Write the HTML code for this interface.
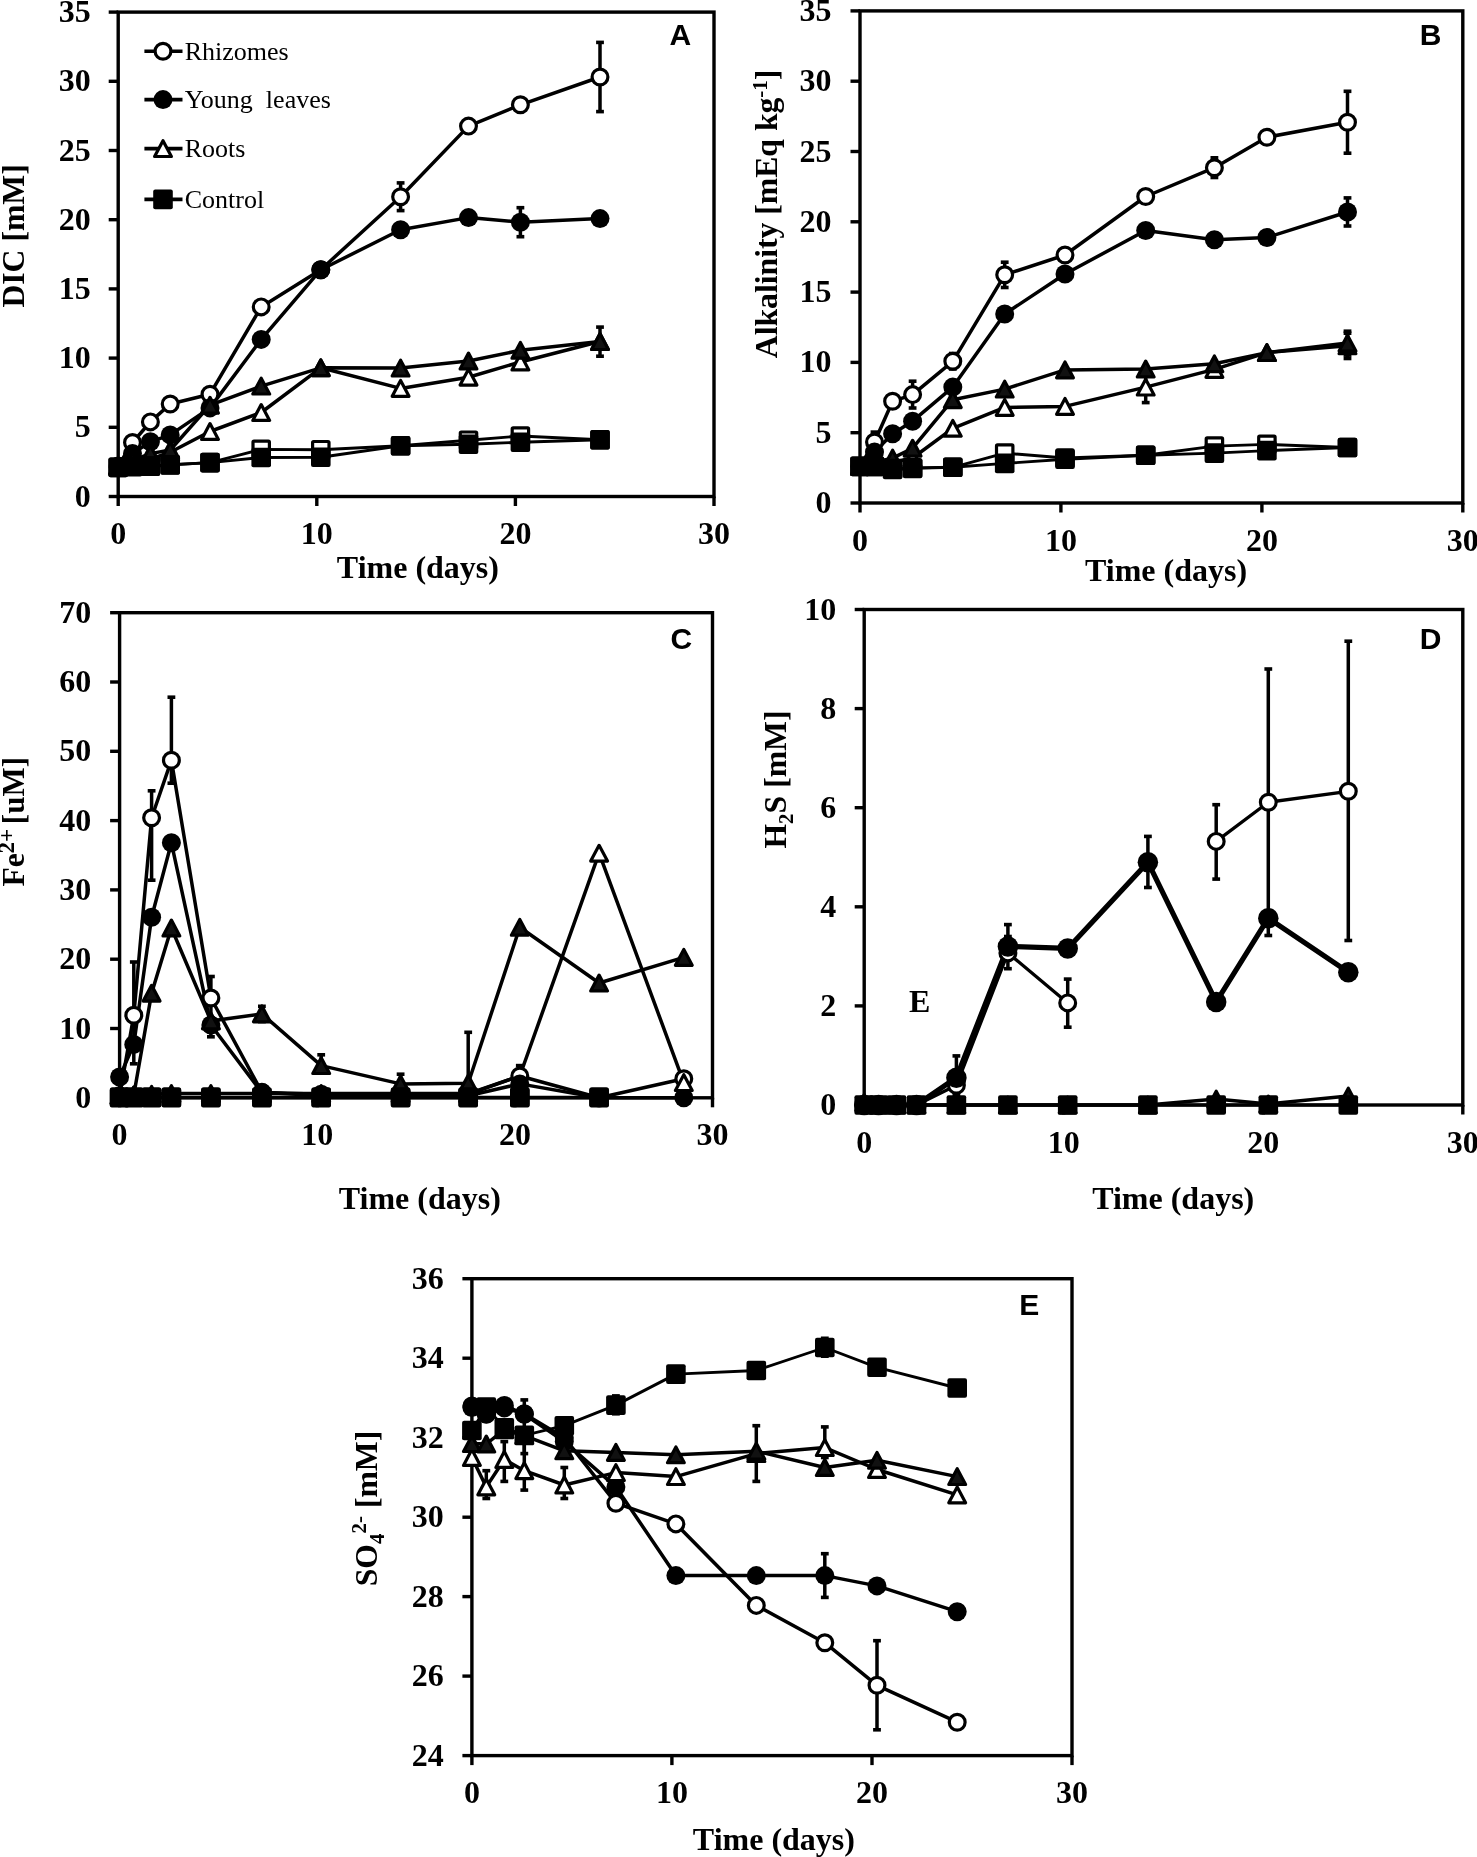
<!DOCTYPE html>
<html><head><meta charset="utf-8"><style>
html,body{margin:0;padding:0;background:#fff;}
svg{display:block;filter:grayscale(1);}
.tk{font-family:"Liberation Serif",serif;font-weight:bold;font-size:32px;}
.ax{font-family:"Liberation Serif",serif;font-weight:bold;font-size:32px;}
.ay{font-family:"Liberation Serif",serif;font-weight:bold;font-size:31.7px;}
.lg{font-family:"Liberation Serif",serif;font-size:26px;}
.lt{font-family:"Liberation Sans",sans-serif;font-weight:bold;font-size:30px;}
</style></head><body>
<svg width="1477" height="1857" viewBox="0 0 1477 1857">
<rect width="1477" height="1857" fill="#fff"/>
<rect x="118.2" y="12.1" width="595.8" height="484.4" fill="none" stroke="#000" stroke-width="3.4"/>
<line x1="108.7" y1="496.5" x2="118.2" y2="496.5" stroke="#000" stroke-width="3.4"/>
<text x="90.8" y="506.5" class="tk" text-anchor="end">0</text>
<line x1="108.7" y1="427.3" x2="118.2" y2="427.3" stroke="#000" stroke-width="3.4"/>
<text x="90.8" y="437.3" class="tk" text-anchor="end">5</text>
<line x1="108.7" y1="358.1" x2="118.2" y2="358.1" stroke="#000" stroke-width="3.4"/>
<text x="90.8" y="368.1" class="tk" text-anchor="end">10</text>
<line x1="108.7" y1="288.9" x2="118.2" y2="288.9" stroke="#000" stroke-width="3.4"/>
<text x="90.8" y="298.9" class="tk" text-anchor="end">15</text>
<line x1="108.7" y1="219.7" x2="118.2" y2="219.7" stroke="#000" stroke-width="3.4"/>
<text x="90.8" y="229.7" class="tk" text-anchor="end">20</text>
<line x1="108.7" y1="150.5" x2="118.2" y2="150.5" stroke="#000" stroke-width="3.4"/>
<text x="90.8" y="160.5" class="tk" text-anchor="end">25</text>
<line x1="108.7" y1="81.3" x2="118.2" y2="81.3" stroke="#000" stroke-width="3.4"/>
<text x="90.8" y="91.3" class="tk" text-anchor="end">30</text>
<line x1="108.7" y1="12.1" x2="118.2" y2="12.1" stroke="#000" stroke-width="3.4"/>
<text x="90.8" y="22.1" class="tk" text-anchor="end">35</text>
<line x1="118.2" y1="496.5" x2="118.2" y2="506" stroke="#000" stroke-width="3.4"/>
<text x="118.2" y="544" class="tk" text-anchor="middle">0</text>
<line x1="316.8" y1="496.5" x2="316.8" y2="506" stroke="#000" stroke-width="3.4"/>
<text x="316.8" y="544" class="tk" text-anchor="middle">10</text>
<line x1="515.4" y1="496.5" x2="515.4" y2="506" stroke="#000" stroke-width="3.4"/>
<text x="515.4" y="544" class="tk" text-anchor="middle">20</text>
<line x1="714" y1="496.5" x2="714" y2="506" stroke="#000" stroke-width="3.4"/>
<text x="714" y="544" class="tk" text-anchor="middle">30</text>
<polyline points="118.2,466.1 132.5,442.5 150.4,421.9 170.2,404.0 210.0,394.2 261.2,306.9 320.8,269.7 400.6,196.7 468.5,126.1 520.4,104.8 600.0,77.0" fill="none" stroke="#000" stroke-width="3.5" stroke-linejoin="round"/>
<polyline points="118.2,467.4 132.5,453.6 150.4,441.8 170.2,434.9 210.0,407.9 261.2,339.4 320.8,269.7 400.6,229.8 468.5,217.6 520.4,222.2 600.0,218.6" fill="none" stroke="#000" stroke-width="3.5" stroke-linejoin="round"/>
<polyline points="118.2,466.1 132.5,463.3 150.4,459.1 170.2,452.2 210.0,431.5 261.2,412.5 320.8,367.8 400.6,388.4 468.5,377.2 520.4,362.0 600.0,341.5" fill="none" stroke="#000" stroke-width="3.5" stroke-linejoin="round"/>
<polyline points="118.2,466.1 132.5,460.5 150.4,453.6 170.2,450.0 210.0,405.2 261.2,386.1 320.8,367.8 400.6,368.1 468.5,361.0 520.4,350.3 600.0,341.6" fill="none" stroke="#000" stroke-width="3.5" stroke-linejoin="round"/>
<polyline points="118.2,467.4 132.5,466.1 150.4,466.1 170.2,464.7 210.0,462.6 261.2,449.4 320.8,449.7 400.6,445.8 468.5,440.2 520.4,436.0 600.0,439.8" fill="none" stroke="#000" stroke-width="2.9" stroke-linejoin="round"/>
<polyline points="118.2,467.4 132.5,466.7 150.4,466.1 170.2,464.9 210.0,462.6 261.2,457.5 320.8,457.3 400.6,445.8 468.5,444.2 520.4,442.2 600.0,439.8" fill="none" stroke="#000" stroke-width="2.9" stroke-linejoin="round"/>
<line x1="400.6" y1="182.9" x2="400.6" y2="210.6" stroke="#000" stroke-width="3.5"/>
<line x1="396.7" y1="182.9" x2="404.5" y2="182.9" stroke="#000" stroke-width="3.6"/>
<line x1="396.7" y1="210.6" x2="404.5" y2="210.6" stroke="#000" stroke-width="3.6"/>
<line x1="600.0" y1="42.4" x2="600.0" y2="111.6" stroke="#000" stroke-width="3.5"/>
<line x1="596.1" y1="42.4" x2="603.9" y2="42.4" stroke="#000" stroke-width="3.6"/>
<line x1="596.1" y1="111.6" x2="603.9" y2="111.6" stroke="#000" stroke-width="3.6"/>
<line x1="520.4" y1="207.7" x2="520.4" y2="236.7" stroke="#000" stroke-width="3.5"/>
<line x1="516.5" y1="207.7" x2="524.3" y2="207.7" stroke="#000" stroke-width="3.6"/>
<line x1="516.5" y1="236.7" x2="524.3" y2="236.7" stroke="#000" stroke-width="3.6"/>
<line x1="600.0" y1="327.1" x2="600.0" y2="356.2" stroke="#000" stroke-width="3.5"/>
<line x1="596.1" y1="327.1" x2="603.9" y2="327.1" stroke="#000" stroke-width="3.6"/>
<line x1="596.1" y1="356.2" x2="603.9" y2="356.2" stroke="#000" stroke-width="3.6"/>
<circle cx="118.2" cy="466.1" r="7.9" fill="#fff" stroke="#000" stroke-width="3.2"/>
<circle cx="132.5" cy="442.5" r="7.9" fill="#fff" stroke="#000" stroke-width="3.2"/>
<circle cx="150.4" cy="421.9" r="7.9" fill="#fff" stroke="#000" stroke-width="3.2"/>
<circle cx="170.2" cy="404.0" r="7.9" fill="#fff" stroke="#000" stroke-width="3.2"/>
<circle cx="210.0" cy="394.2" r="7.9" fill="#fff" stroke="#000" stroke-width="3.2"/>
<circle cx="261.2" cy="306.9" r="7.9" fill="#fff" stroke="#000" stroke-width="3.2"/>
<circle cx="320.8" cy="269.7" r="7.9" fill="#fff" stroke="#000" stroke-width="3.2"/>
<circle cx="400.6" cy="196.7" r="7.9" fill="#fff" stroke="#000" stroke-width="3.2"/>
<circle cx="468.5" cy="126.1" r="7.9" fill="#fff" stroke="#000" stroke-width="3.2"/>
<circle cx="520.4" cy="104.8" r="7.9" fill="#fff" stroke="#000" stroke-width="3.2"/>
<circle cx="600.0" cy="77.0" r="7.9" fill="#fff" stroke="#000" stroke-width="3.2"/>
<circle cx="118.2" cy="467.4" r="9.50" fill="#000"/>
<circle cx="132.5" cy="453.6" r="9.50" fill="#000"/>
<circle cx="150.4" cy="441.8" r="9.50" fill="#000"/>
<circle cx="170.2" cy="434.9" r="9.50" fill="#000"/>
<circle cx="210.0" cy="407.9" r="9.50" fill="#000"/>
<circle cx="261.2" cy="339.4" r="9.50" fill="#000"/>
<circle cx="320.8" cy="269.7" r="9.50" fill="#000"/>
<circle cx="400.6" cy="229.8" r="9.50" fill="#000"/>
<circle cx="468.5" cy="217.6" r="9.50" fill="#000"/>
<circle cx="520.4" cy="222.2" r="9.50" fill="#000"/>
<circle cx="600.0" cy="218.6" r="9.50" fill="#000"/>
<path d="M118.2 458.2L126.6 474.0L109.8 474.0Z" fill="#fff" stroke="#000" stroke-width="3.2" stroke-linejoin="round"/>
<path d="M132.5 455.4L140.9 471.2L124.1 471.2Z" fill="#fff" stroke="#000" stroke-width="3.2" stroke-linejoin="round"/>
<path d="M150.4 451.2L158.8 467.0L142.0 467.0Z" fill="#fff" stroke="#000" stroke-width="3.2" stroke-linejoin="round"/>
<path d="M170.2 444.3L178.6 460.1L161.8 460.1Z" fill="#fff" stroke="#000" stroke-width="3.2" stroke-linejoin="round"/>
<path d="M210.0 423.6L218.4 439.4L201.6 439.4Z" fill="#fff" stroke="#000" stroke-width="3.2" stroke-linejoin="round"/>
<path d="M261.2 404.6L269.6 420.4L252.8 420.4Z" fill="#fff" stroke="#000" stroke-width="3.2" stroke-linejoin="round"/>
<path d="M320.8 359.9L329.2 375.7L312.4 375.7Z" fill="#fff" stroke="#000" stroke-width="3.2" stroke-linejoin="round"/>
<path d="M400.6 380.5L409.0 396.3L392.2 396.3Z" fill="#fff" stroke="#000" stroke-width="3.2" stroke-linejoin="round"/>
<path d="M468.5 369.3L476.9 385.1L460.1 385.1Z" fill="#fff" stroke="#000" stroke-width="3.2" stroke-linejoin="round"/>
<path d="M520.4 354.1L528.8 369.9L512.0 369.9Z" fill="#fff" stroke="#000" stroke-width="3.2" stroke-linejoin="round"/>
<path d="M600.0 333.6L608.4 349.4L591.6 349.4Z" fill="#fff" stroke="#000" stroke-width="3.2" stroke-linejoin="round"/>
<path d="M118.2 458.2L126.6 474.0L109.8 474.0Z" fill="#111" stroke="#000" stroke-width="3.2" stroke-linejoin="round"/>
<path d="M132.5 452.6L140.9 468.4L124.1 468.4Z" fill="#111" stroke="#000" stroke-width="3.2" stroke-linejoin="round"/>
<path d="M150.4 445.7L158.8 461.5L142.0 461.5Z" fill="#111" stroke="#000" stroke-width="3.2" stroke-linejoin="round"/>
<path d="M170.2 442.1L178.6 457.9L161.8 457.9Z" fill="#111" stroke="#000" stroke-width="3.2" stroke-linejoin="round"/>
<path d="M210.0 397.3L218.4 413.1L201.6 413.1Z" fill="#111" stroke="#000" stroke-width="3.2" stroke-linejoin="round"/>
<path d="M261.2 378.2L269.6 394.0L252.8 394.0Z" fill="#111" stroke="#000" stroke-width="3.2" stroke-linejoin="round"/>
<path d="M320.8 359.9L329.2 375.7L312.4 375.7Z" fill="#111" stroke="#000" stroke-width="3.2" stroke-linejoin="round"/>
<path d="M400.6 360.2L409.0 376.0L392.2 376.0Z" fill="#111" stroke="#000" stroke-width="3.2" stroke-linejoin="round"/>
<path d="M468.5 353.1L476.9 368.9L460.1 368.9Z" fill="#111" stroke="#000" stroke-width="3.2" stroke-linejoin="round"/>
<path d="M520.4 342.4L528.8 358.2L512.0 358.2Z" fill="#111" stroke="#000" stroke-width="3.2" stroke-linejoin="round"/>
<path d="M600.0 333.7L608.4 349.5L591.6 349.5Z" fill="#111" stroke="#000" stroke-width="3.2" stroke-linejoin="round"/>
<rect x="110.0" y="459.2" width="16.4" height="16.4" rx="1" fill="#fff" stroke="#000" stroke-width="3.2"/>
<rect x="124.3" y="457.9" width="16.4" height="16.4" rx="1" fill="#fff" stroke="#000" stroke-width="3.2"/>
<rect x="142.2" y="457.9" width="16.4" height="16.4" rx="1" fill="#fff" stroke="#000" stroke-width="3.2"/>
<rect x="162.0" y="456.5" width="16.4" height="16.4" rx="1" fill="#fff" stroke="#000" stroke-width="3.2"/>
<rect x="201.8" y="454.4" width="16.4" height="16.4" rx="1" fill="#fff" stroke="#000" stroke-width="3.2"/>
<rect x="253.0" y="441.2" width="16.4" height="16.4" rx="1" fill="#fff" stroke="#000" stroke-width="3.2"/>
<rect x="312.6" y="441.5" width="16.4" height="16.4" rx="1" fill="#fff" stroke="#000" stroke-width="3.2"/>
<rect x="392.4" y="437.6" width="16.4" height="16.4" rx="1" fill="#fff" stroke="#000" stroke-width="3.2"/>
<rect x="460.3" y="432.0" width="16.4" height="16.4" rx="1" fill="#fff" stroke="#000" stroke-width="3.2"/>
<rect x="512.2" y="427.8" width="16.4" height="16.4" rx="1" fill="#fff" stroke="#000" stroke-width="3.2"/>
<rect x="591.8" y="431.6" width="16.4" height="16.4" rx="1" fill="#fff" stroke="#000" stroke-width="3.2"/>
<rect x="108.4" y="457.6" width="19.6" height="19.6" rx="2" fill="#000"/>
<rect x="122.7" y="456.9" width="19.6" height="19.6" rx="2" fill="#000"/>
<rect x="140.6" y="456.3" width="19.6" height="19.6" rx="2" fill="#000"/>
<rect x="160.4" y="455.1" width="19.6" height="19.6" rx="2" fill="#000"/>
<rect x="200.2" y="452.8" width="19.6" height="19.6" rx="2" fill="#000"/>
<rect x="251.4" y="447.7" width="19.6" height="19.6" rx="2" fill="#000"/>
<rect x="311.0" y="447.5" width="19.6" height="19.6" rx="2" fill="#000"/>
<rect x="390.8" y="436.0" width="19.6" height="19.6" rx="2" fill="#000"/>
<rect x="458.7" y="434.4" width="19.6" height="19.6" rx="2" fill="#000"/>
<rect x="510.6" y="432.4" width="19.6" height="19.6" rx="2" fill="#000"/>
<rect x="590.2" y="430.0" width="19.6" height="19.6" rx="2" fill="#000"/>
<text transform="translate(23.9,235.9) rotate(-90)" text-anchor="middle" class="ay">DIC [mM]</text>
<text x="417.9" y="577.9" text-anchor="middle" class="ax">Time (days)</text>
<text x="669.5" y="45.4" class="lt">A</text>
<line x1="144.4" y1="51.3" x2="182.5" y2="51.3" stroke="#000" stroke-width="3.6"/>
<circle cx="163.0" cy="51.3" r="7.9" fill="#fff" stroke="#000" stroke-width="3.2"/>
<text x="184.7" y="60.1" class="lg">Rhizomes</text>
<line x1="144.4" y1="99.6" x2="182.5" y2="99.6" stroke="#000" stroke-width="3.6"/>
<circle cx="163.0" cy="99.6" r="9.50" fill="#000"/>
<text x="184.7" y="108.4" class="lg">Young&#160;&#160;leaves</text>
<line x1="144.4" y1="148.6" x2="182.5" y2="148.6" stroke="#000" stroke-width="3.6"/>
<path d="M163.0 140.7L171.4 156.5L154.6 156.5Z" fill="#fff" stroke="#000" stroke-width="3.2" stroke-linejoin="round"/>
<text x="184.7" y="157.4" class="lg">Roots</text>
<line x1="144.4" y1="199.4" x2="182.5" y2="199.4" stroke="#000" stroke-width="3.6"/>
<rect x="153.2" y="189.6" width="19.6" height="19.6" rx="2" fill="#000"/>
<text x="184.7" y="208.2" class="lg">Control</text>
<rect x="860" y="10.9" width="602.8" height="492.1" fill="none" stroke="#000" stroke-width="3.4"/>
<line x1="850.5" y1="503" x2="860" y2="503" stroke="#000" stroke-width="3.4"/>
<text x="831.6" y="513" class="tk" text-anchor="end">0</text>
<line x1="850.5" y1="432.7" x2="860" y2="432.7" stroke="#000" stroke-width="3.4"/>
<text x="831.6" y="442.7" class="tk" text-anchor="end">5</text>
<line x1="850.5" y1="362.4" x2="860" y2="362.4" stroke="#000" stroke-width="3.4"/>
<text x="831.6" y="372.4" class="tk" text-anchor="end">10</text>
<line x1="850.5" y1="292.1" x2="860" y2="292.1" stroke="#000" stroke-width="3.4"/>
<text x="831.6" y="302.1" class="tk" text-anchor="end">15</text>
<line x1="850.5" y1="221.8" x2="860" y2="221.8" stroke="#000" stroke-width="3.4"/>
<text x="831.6" y="231.8" class="tk" text-anchor="end">20</text>
<line x1="850.5" y1="151.5" x2="860" y2="151.5" stroke="#000" stroke-width="3.4"/>
<text x="831.6" y="161.5" class="tk" text-anchor="end">25</text>
<line x1="850.5" y1="81.2" x2="860" y2="81.2" stroke="#000" stroke-width="3.4"/>
<text x="831.6" y="91.2" class="tk" text-anchor="end">30</text>
<line x1="850.5" y1="10.9" x2="860" y2="10.9" stroke="#000" stroke-width="3.4"/>
<text x="831.6" y="20.9" class="tk" text-anchor="end">35</text>
<line x1="860" y1="503" x2="860" y2="512.5" stroke="#000" stroke-width="3.4"/>
<text x="860" y="550.7" class="tk" text-anchor="middle">0</text>
<line x1="1060.9" y1="503" x2="1060.9" y2="512.5" stroke="#000" stroke-width="3.4"/>
<text x="1060.9" y="550.7" class="tk" text-anchor="middle">10</text>
<line x1="1261.9" y1="503" x2="1261.9" y2="512.5" stroke="#000" stroke-width="3.4"/>
<text x="1261.9" y="550.7" class="tk" text-anchor="middle">20</text>
<line x1="1462.8" y1="503" x2="1462.8" y2="512.5" stroke="#000" stroke-width="3.4"/>
<text x="1462.8" y="550.7" class="tk" text-anchor="middle">30</text>
<polyline points="860.0,466.4 874.5,442.0 892.6,401.3 912.6,394.6 952.8,361.3 1004.7,274.8 1065.0,255.0 1145.7,196.5 1214.4,167.7 1266.9,137.2 1347.5,122.3" fill="none" stroke="#000" stroke-width="3.5" stroke-linejoin="round"/>
<polyline points="860.0,466.4 874.5,452.1 892.6,433.8 912.6,421.2 952.8,387.1 1004.7,314.0 1065.0,274.0 1145.7,230.5 1214.4,239.8 1266.9,237.5 1347.5,212.0" fill="none" stroke="#000" stroke-width="3.5" stroke-linejoin="round"/>
<polyline points="860.0,466.4 874.5,465.0 892.6,462.2 912.6,458.0 952.8,428.3 1004.7,407.4 1065.0,406.4 1145.7,387.1 1214.4,369.4 1266.9,352.6 1347.5,345.8" fill="none" stroke="#000" stroke-width="3.5" stroke-linejoin="round"/>
<polyline points="860.0,466.4 874.5,462.2 892.6,458.1 912.6,448.2 952.8,399.7 1004.7,389.1 1065.0,369.9 1145.7,369.0 1214.4,363.8 1266.9,352.6 1347.5,343.1" fill="none" stroke="#000" stroke-width="3.5" stroke-linejoin="round"/>
<polyline points="860.0,466.4 874.5,466.4 892.6,468.6 912.6,467.9 952.8,467.3 1004.7,453.1 1065.0,458.0 1145.7,455.3 1214.4,446.1 1266.9,444.4 1347.5,447.5" fill="none" stroke="#000" stroke-width="2.9" stroke-linejoin="round"/>
<polyline points="860.0,466.4 874.5,466.4 892.6,469.4 912.6,468.4 952.8,467.3 1004.7,463.4 1065.0,459.3 1145.7,455.3 1214.4,453.1 1266.9,450.6 1347.5,447.5" fill="none" stroke="#000" stroke-width="2.9" stroke-linejoin="round"/>
<line x1="874.5" y1="432.1" x2="874.5" y2="451.8" stroke="#000" stroke-width="3.5"/>
<line x1="870.6" y1="432.1" x2="878.4" y2="432.1" stroke="#000" stroke-width="3.6"/>
<line x1="870.6" y1="451.8" x2="878.4" y2="451.8" stroke="#000" stroke-width="3.6"/>
<line x1="912.6" y1="381.2" x2="912.6" y2="408.0" stroke="#000" stroke-width="3.5"/>
<line x1="908.7" y1="381.2" x2="916.5" y2="381.2" stroke="#000" stroke-width="3.6"/>
<line x1="908.7" y1="408.0" x2="916.5" y2="408.0" stroke="#000" stroke-width="3.6"/>
<line x1="952.8" y1="353.5" x2="952.8" y2="369.0" stroke="#000" stroke-width="3.5"/>
<line x1="948.9" y1="353.5" x2="956.7" y2="353.5" stroke="#000" stroke-width="3.6"/>
<line x1="948.9" y1="369.0" x2="956.7" y2="369.0" stroke="#000" stroke-width="3.6"/>
<line x1="1004.7" y1="262.2" x2="1004.7" y2="287.5" stroke="#000" stroke-width="3.5"/>
<line x1="1000.8" y1="262.2" x2="1008.6" y2="262.2" stroke="#000" stroke-width="3.6"/>
<line x1="1000.8" y1="287.5" x2="1008.6" y2="287.5" stroke="#000" stroke-width="3.6"/>
<line x1="1214.4" y1="157.8" x2="1214.4" y2="177.5" stroke="#000" stroke-width="3.5"/>
<line x1="1210.5" y1="157.8" x2="1218.3" y2="157.8" stroke="#000" stroke-width="3.6"/>
<line x1="1210.5" y1="177.5" x2="1218.3" y2="177.5" stroke="#000" stroke-width="3.6"/>
<line x1="1347.5" y1="91.3" x2="1347.5" y2="153.2" stroke="#000" stroke-width="3.5"/>
<line x1="1343.6" y1="91.3" x2="1351.4" y2="91.3" stroke="#000" stroke-width="3.6"/>
<line x1="1343.6" y1="153.2" x2="1351.4" y2="153.2" stroke="#000" stroke-width="3.6"/>
<line x1="1347.5" y1="197.9" x2="1347.5" y2="226.0" stroke="#000" stroke-width="3.5"/>
<line x1="1343.6" y1="197.9" x2="1351.4" y2="197.9" stroke="#000" stroke-width="3.6"/>
<line x1="1343.6" y1="226.0" x2="1351.4" y2="226.0" stroke="#000" stroke-width="3.6"/>
<line x1="1145.7" y1="371.7" x2="1145.7" y2="402.6" stroke="#000" stroke-width="3.5"/>
<line x1="1141.8" y1="371.7" x2="1149.6" y2="371.7" stroke="#000" stroke-width="3.6"/>
<line x1="1141.8" y1="402.6" x2="1149.6" y2="402.6" stroke="#000" stroke-width="3.6"/>
<line x1="1347.5" y1="333.2" x2="1347.5" y2="358.5" stroke="#000" stroke-width="3.5"/>
<line x1="1343.6" y1="333.2" x2="1351.4" y2="333.2" stroke="#000" stroke-width="3.6"/>
<line x1="1343.6" y1="358.5" x2="1351.4" y2="358.5" stroke="#000" stroke-width="3.6"/>
<line x1="1347.5" y1="331.2" x2="1347.5" y2="355.1" stroke="#000" stroke-width="3.5"/>
<line x1="1343.6" y1="331.2" x2="1351.4" y2="331.2" stroke="#000" stroke-width="3.6"/>
<line x1="1343.6" y1="355.1" x2="1351.4" y2="355.1" stroke="#000" stroke-width="3.6"/>
<circle cx="860.0" cy="466.4" r="7.9" fill="#fff" stroke="#000" stroke-width="3.2"/>
<circle cx="874.5" cy="442.0" r="7.9" fill="#fff" stroke="#000" stroke-width="3.2"/>
<circle cx="892.6" cy="401.3" r="7.9" fill="#fff" stroke="#000" stroke-width="3.2"/>
<circle cx="912.6" cy="394.6" r="7.9" fill="#fff" stroke="#000" stroke-width="3.2"/>
<circle cx="952.8" cy="361.3" r="7.9" fill="#fff" stroke="#000" stroke-width="3.2"/>
<circle cx="1004.7" cy="274.8" r="7.9" fill="#fff" stroke="#000" stroke-width="3.2"/>
<circle cx="1065.0" cy="255.0" r="7.9" fill="#fff" stroke="#000" stroke-width="3.2"/>
<circle cx="1145.7" cy="196.5" r="7.9" fill="#fff" stroke="#000" stroke-width="3.2"/>
<circle cx="1214.4" cy="167.7" r="7.9" fill="#fff" stroke="#000" stroke-width="3.2"/>
<circle cx="1266.9" cy="137.2" r="7.9" fill="#fff" stroke="#000" stroke-width="3.2"/>
<circle cx="1347.5" cy="122.3" r="7.9" fill="#fff" stroke="#000" stroke-width="3.2"/>
<circle cx="860.0" cy="466.4" r="9.50" fill="#000"/>
<circle cx="874.5" cy="452.1" r="9.50" fill="#000"/>
<circle cx="892.6" cy="433.8" r="9.50" fill="#000"/>
<circle cx="912.6" cy="421.2" r="9.50" fill="#000"/>
<circle cx="952.8" cy="387.1" r="9.50" fill="#000"/>
<circle cx="1004.7" cy="314.0" r="9.50" fill="#000"/>
<circle cx="1065.0" cy="274.0" r="9.50" fill="#000"/>
<circle cx="1145.7" cy="230.5" r="9.50" fill="#000"/>
<circle cx="1214.4" cy="239.8" r="9.50" fill="#000"/>
<circle cx="1266.9" cy="237.5" r="9.50" fill="#000"/>
<circle cx="1347.5" cy="212.0" r="9.50" fill="#000"/>
<path d="M860.0 458.5L868.4 474.3L851.6 474.3Z" fill="#fff" stroke="#000" stroke-width="3.2" stroke-linejoin="round"/>
<path d="M874.5 457.1L882.9 472.9L866.1 472.9Z" fill="#fff" stroke="#000" stroke-width="3.2" stroke-linejoin="round"/>
<path d="M892.6 454.3L901.0 470.1L884.2 470.1Z" fill="#fff" stroke="#000" stroke-width="3.2" stroke-linejoin="round"/>
<path d="M912.6 450.1L921.0 465.9L904.2 465.9Z" fill="#fff" stroke="#000" stroke-width="3.2" stroke-linejoin="round"/>
<path d="M952.8 420.4L961.2 436.2L944.4 436.2Z" fill="#fff" stroke="#000" stroke-width="3.2" stroke-linejoin="round"/>
<path d="M1004.7 399.5L1013.1 415.3L996.3 415.3Z" fill="#fff" stroke="#000" stroke-width="3.2" stroke-linejoin="round"/>
<path d="M1065.0 398.5L1073.4 414.3L1056.6 414.3Z" fill="#fff" stroke="#000" stroke-width="3.2" stroke-linejoin="round"/>
<path d="M1145.7 379.2L1154.1 395.0L1137.3 395.0Z" fill="#fff" stroke="#000" stroke-width="3.2" stroke-linejoin="round"/>
<path d="M1214.4 361.5L1222.8 377.3L1206.0 377.3Z" fill="#fff" stroke="#000" stroke-width="3.2" stroke-linejoin="round"/>
<path d="M1266.9 344.7L1275.3 360.5L1258.5 360.5Z" fill="#fff" stroke="#000" stroke-width="3.2" stroke-linejoin="round"/>
<path d="M1347.5 337.9L1355.9 353.7L1339.1 353.7Z" fill="#fff" stroke="#000" stroke-width="3.2" stroke-linejoin="round"/>
<path d="M860.0 458.5L868.4 474.3L851.6 474.3Z" fill="#111" stroke="#000" stroke-width="3.2" stroke-linejoin="round"/>
<path d="M874.5 454.3L882.9 470.1L866.1 470.1Z" fill="#111" stroke="#000" stroke-width="3.2" stroke-linejoin="round"/>
<path d="M892.6 450.2L901.0 466.0L884.2 466.0Z" fill="#111" stroke="#000" stroke-width="3.2" stroke-linejoin="round"/>
<path d="M912.6 440.3L921.0 456.1L904.2 456.1Z" fill="#111" stroke="#000" stroke-width="3.2" stroke-linejoin="round"/>
<path d="M952.8 391.8L961.2 407.6L944.4 407.6Z" fill="#111" stroke="#000" stroke-width="3.2" stroke-linejoin="round"/>
<path d="M1004.7 381.2L1013.1 397.0L996.3 397.0Z" fill="#111" stroke="#000" stroke-width="3.2" stroke-linejoin="round"/>
<path d="M1065.0 362.0L1073.4 377.8L1056.6 377.8Z" fill="#111" stroke="#000" stroke-width="3.2" stroke-linejoin="round"/>
<path d="M1145.7 361.1L1154.1 376.9L1137.3 376.9Z" fill="#111" stroke="#000" stroke-width="3.2" stroke-linejoin="round"/>
<path d="M1214.4 355.9L1222.8 371.7L1206.0 371.7Z" fill="#111" stroke="#000" stroke-width="3.2" stroke-linejoin="round"/>
<path d="M1266.9 344.7L1275.3 360.5L1258.5 360.5Z" fill="#111" stroke="#000" stroke-width="3.2" stroke-linejoin="round"/>
<path d="M1347.5 335.2L1355.9 351.0L1339.1 351.0Z" fill="#111" stroke="#000" stroke-width="3.2" stroke-linejoin="round"/>
<rect x="851.8" y="458.2" width="16.4" height="16.4" rx="1" fill="#fff" stroke="#000" stroke-width="3.2"/>
<rect x="866.3" y="458.2" width="16.4" height="16.4" rx="1" fill="#fff" stroke="#000" stroke-width="3.2"/>
<rect x="884.4" y="460.4" width="16.4" height="16.4" rx="1" fill="#fff" stroke="#000" stroke-width="3.2"/>
<rect x="904.4" y="459.7" width="16.4" height="16.4" rx="1" fill="#fff" stroke="#000" stroke-width="3.2"/>
<rect x="944.6" y="459.1" width="16.4" height="16.4" rx="1" fill="#fff" stroke="#000" stroke-width="3.2"/>
<rect x="996.5" y="444.9" width="16.4" height="16.4" rx="1" fill="#fff" stroke="#000" stroke-width="3.2"/>
<rect x="1056.8" y="449.8" width="16.4" height="16.4" rx="1" fill="#fff" stroke="#000" stroke-width="3.2"/>
<rect x="1137.5" y="447.1" width="16.4" height="16.4" rx="1" fill="#fff" stroke="#000" stroke-width="3.2"/>
<rect x="1206.2" y="437.9" width="16.4" height="16.4" rx="1" fill="#fff" stroke="#000" stroke-width="3.2"/>
<rect x="1258.7" y="436.2" width="16.4" height="16.4" rx="1" fill="#fff" stroke="#000" stroke-width="3.2"/>
<rect x="1339.3" y="439.3" width="16.4" height="16.4" rx="1" fill="#fff" stroke="#000" stroke-width="3.2"/>
<rect x="850.2" y="456.6" width="19.6" height="19.6" rx="2" fill="#000"/>
<rect x="864.7" y="456.6" width="19.6" height="19.6" rx="2" fill="#000"/>
<rect x="882.8" y="459.6" width="19.6" height="19.6" rx="2" fill="#000"/>
<rect x="902.8" y="458.6" width="19.6" height="19.6" rx="2" fill="#000"/>
<rect x="943.0" y="457.5" width="19.6" height="19.6" rx="2" fill="#000"/>
<rect x="994.9" y="453.6" width="19.6" height="19.6" rx="2" fill="#000"/>
<rect x="1055.2" y="449.5" width="19.6" height="19.6" rx="2" fill="#000"/>
<rect x="1135.9" y="445.5" width="19.6" height="19.6" rx="2" fill="#000"/>
<rect x="1204.6" y="443.3" width="19.6" height="19.6" rx="2" fill="#000"/>
<rect x="1257.1" y="440.8" width="19.6" height="19.6" rx="2" fill="#000"/>
<rect x="1337.7" y="437.7" width="19.6" height="19.6" rx="2" fill="#000"/>
<text transform="translate(776.9,213.9) rotate(-90)" text-anchor="middle" class="ay">Alkalinity [mEq kg<tspan dy="-10.3" font-size="21">-1</tspan><tspan dy="10.3">]</tspan></text>
<text x="1166.1" y="581.0" text-anchor="middle" class="ax">Time (days)</text>
<text x="1419.7" y="45.4" class="lt">B</text>
<rect x="119.6" y="612.7" width="592.9" height="485.1" fill="none" stroke="#000" stroke-width="3.4"/>
<line x1="110.1" y1="1097.8" x2="119.6" y2="1097.8" stroke="#000" stroke-width="3.4"/>
<text x="91.3" y="1107.8" class="tk" text-anchor="end">0</text>
<line x1="110.1" y1="1028.5" x2="119.6" y2="1028.5" stroke="#000" stroke-width="3.4"/>
<text x="91.3" y="1038.5" class="tk" text-anchor="end">10</text>
<line x1="110.1" y1="959.2" x2="119.6" y2="959.2" stroke="#000" stroke-width="3.4"/>
<text x="91.3" y="969.2" class="tk" text-anchor="end">20</text>
<line x1="110.1" y1="889.9" x2="119.6" y2="889.9" stroke="#000" stroke-width="3.4"/>
<text x="91.3" y="899.9" class="tk" text-anchor="end">30</text>
<line x1="110.1" y1="820.6" x2="119.6" y2="820.6" stroke="#000" stroke-width="3.4"/>
<text x="91.3" y="830.6" class="tk" text-anchor="end">40</text>
<line x1="110.1" y1="751.3" x2="119.6" y2="751.3" stroke="#000" stroke-width="3.4"/>
<text x="91.3" y="761.3" class="tk" text-anchor="end">50</text>
<line x1="110.1" y1="682" x2="119.6" y2="682" stroke="#000" stroke-width="3.4"/>
<text x="91.3" y="692" class="tk" text-anchor="end">60</text>
<line x1="110.1" y1="612.7" x2="119.6" y2="612.7" stroke="#000" stroke-width="3.4"/>
<text x="91.3" y="622.7" class="tk" text-anchor="end">70</text>
<line x1="119.6" y1="1097.8" x2="119.6" y2="1107.3" stroke="#000" stroke-width="3.4"/>
<text x="119.6" y="1144.8" class="tk" text-anchor="middle">0</text>
<line x1="317.2" y1="1097.8" x2="317.2" y2="1107.3" stroke="#000" stroke-width="3.4"/>
<text x="317.2" y="1144.8" class="tk" text-anchor="middle">10</text>
<line x1="514.9" y1="1097.8" x2="514.9" y2="1107.3" stroke="#000" stroke-width="3.4"/>
<text x="514.9" y="1144.8" class="tk" text-anchor="middle">20</text>
<line x1="712.5" y1="1097.8" x2="712.5" y2="1107.3" stroke="#000" stroke-width="3.4"/>
<text x="712.5" y="1144.8" class="tk" text-anchor="middle">30</text>
<polyline points="119.6,1095.7 133.8,1015.3 151.6,817.8 171.4,760.3 210.9,998.0 261.9,1092.3 321.2,1095.7 400.6,1095.7 468.2,1094.3 519.8,1076.0 599.1,1097.8 683.8,1078.7" fill="none" stroke="#000" stroke-width="3.5" stroke-linejoin="round"/>
<polyline points="119.6,1077.0 133.8,1044.4 151.6,917.2 171.4,842.8 210.9,1025.0 261.9,1092.6 321.2,1094.3 400.6,1095.7 468.2,1095.7 519.8,1083.9 599.1,1097.8 683.8,1097.8" fill="none" stroke="#000" stroke-width="3.5" stroke-linejoin="round"/>
<polyline points="119.6,1095.7 133.8,1095.0 151.6,1094.3 171.4,1093.6 210.9,1093.6 261.9,1093.6 321.2,1093.6 400.6,1093.6 468.2,1093.6 519.8,1076.0 599.1,853.2 683.8,1082.6" fill="none" stroke="#000" stroke-width="3.5" stroke-linejoin="round"/>
<polyline points="119.6,1095.7 133.8,1095.0 151.6,993.2 171.4,928.0 210.9,1020.9 261.9,1013.9 321.2,1065.6 400.6,1083.9 468.2,1083.2 519.8,927.3 599.1,983.0 683.8,957.4" fill="none" stroke="#000" stroke-width="3.5" stroke-linejoin="round"/>
<polyline points="119.6,1097.1 133.8,1097.1 151.6,1097.1 171.4,1097.1 210.9,1097.1 261.9,1097.1 321.2,1097.1 400.6,1097.1 468.2,1097.1 519.8,1097.1 599.1,1097.1" fill="none" stroke="#000" stroke-width="2.9" stroke-linejoin="round"/>
<polyline points="119.6,1097.8 133.8,1097.8 151.6,1097.8 171.4,1097.8 210.9,1097.8 261.9,1097.8 321.2,1097.8 400.6,1097.8 468.2,1097.8 519.8,1097.8 599.1,1097.8" fill="none" stroke="#000" stroke-width="2.9" stroke-linejoin="round"/>
<line x1="133.8" y1="962.0" x2="133.8" y2="1063.8" stroke="#000" stroke-width="3.5"/>
<line x1="129.9" y1="962.0" x2="137.7" y2="962.0" stroke="#000" stroke-width="3.6"/>
<line x1="129.9" y1="1063.8" x2="137.7" y2="1063.8" stroke="#000" stroke-width="3.6"/>
<line x1="151.6" y1="790.8" x2="151.6" y2="880.2" stroke="#000" stroke-width="3.5"/>
<line x1="147.7" y1="790.8" x2="155.5" y2="790.8" stroke="#000" stroke-width="3.6"/>
<line x1="147.7" y1="880.2" x2="155.5" y2="880.2" stroke="#000" stroke-width="3.6"/>
<line x1="171.4" y1="697.2" x2="171.4" y2="783.2" stroke="#000" stroke-width="3.5"/>
<line x1="167.5" y1="697.2" x2="175.3" y2="697.2" stroke="#000" stroke-width="3.6"/>
<line x1="167.5" y1="783.2" x2="175.3" y2="783.2" stroke="#000" stroke-width="3.6"/>
<line x1="210.9" y1="976.5" x2="210.9" y2="1021.6" stroke="#000" stroke-width="3.5"/>
<line x1="207.0" y1="976.5" x2="214.8" y2="976.5" stroke="#000" stroke-width="3.6"/>
<line x1="207.0" y1="1021.6" x2="214.8" y2="1021.6" stroke="#000" stroke-width="3.6"/>
<line x1="519.8" y1="1065.6" x2="519.8" y2="1080.5" stroke="#000" stroke-width="3.5"/>
<line x1="515.9" y1="1065.6" x2="523.7" y2="1065.6" stroke="#000" stroke-width="3.6"/>
<line x1="515.9" y1="1080.5" x2="523.7" y2="1080.5" stroke="#000" stroke-width="3.6"/>
<line x1="210.9" y1="1018.1" x2="210.9" y2="1036.8" stroke="#000" stroke-width="3.5"/>
<line x1="207.0" y1="1018.1" x2="214.8" y2="1018.1" stroke="#000" stroke-width="3.6"/>
<line x1="207.0" y1="1036.8" x2="214.8" y2="1036.8" stroke="#000" stroke-width="3.6"/>
<line x1="261.9" y1="1006.3" x2="261.9" y2="1021.6" stroke="#000" stroke-width="3.5"/>
<line x1="258.0" y1="1006.3" x2="265.8" y2="1006.3" stroke="#000" stroke-width="3.6"/>
<line x1="258.0" y1="1021.6" x2="265.8" y2="1021.6" stroke="#000" stroke-width="3.6"/>
<line x1="321.2" y1="1054.8" x2="321.2" y2="1070.1" stroke="#000" stroke-width="3.5"/>
<line x1="317.3" y1="1054.8" x2="325.1" y2="1054.8" stroke="#000" stroke-width="3.6"/>
<line x1="317.3" y1="1070.1" x2="325.1" y2="1070.1" stroke="#000" stroke-width="3.6"/>
<line x1="400.6" y1="1074.2" x2="400.6" y2="1090.9" stroke="#000" stroke-width="3.5"/>
<line x1="396.7" y1="1074.2" x2="404.5" y2="1074.2" stroke="#000" stroke-width="3.6"/>
<line x1="396.7" y1="1090.9" x2="404.5" y2="1090.9" stroke="#000" stroke-width="3.6"/>
<line x1="468.2" y1="1032.3" x2="468.2" y2="1094.3" stroke="#000" stroke-width="3.5"/>
<line x1="464.3" y1="1032.3" x2="472.1" y2="1032.3" stroke="#000" stroke-width="3.6"/>
<line x1="464.3" y1="1094.3" x2="472.1" y2="1094.3" stroke="#000" stroke-width="3.6"/>
<circle cx="119.6" cy="1095.7" r="7.9" fill="#fff" stroke="#000" stroke-width="3.2"/>
<circle cx="133.8" cy="1015.3" r="7.9" fill="#fff" stroke="#000" stroke-width="3.2"/>
<circle cx="151.6" cy="817.8" r="7.9" fill="#fff" stroke="#000" stroke-width="3.2"/>
<circle cx="171.4" cy="760.3" r="7.9" fill="#fff" stroke="#000" stroke-width="3.2"/>
<circle cx="210.9" cy="998.0" r="7.9" fill="#fff" stroke="#000" stroke-width="3.2"/>
<circle cx="261.9" cy="1092.3" r="7.9" fill="#fff" stroke="#000" stroke-width="3.2"/>
<circle cx="321.2" cy="1095.7" r="7.9" fill="#fff" stroke="#000" stroke-width="3.2"/>
<circle cx="400.6" cy="1095.7" r="7.9" fill="#fff" stroke="#000" stroke-width="3.2"/>
<circle cx="468.2" cy="1094.3" r="7.9" fill="#fff" stroke="#000" stroke-width="3.2"/>
<circle cx="519.8" cy="1076.0" r="7.9" fill="#fff" stroke="#000" stroke-width="3.2"/>
<circle cx="599.1" cy="1097.8" r="7.9" fill="#fff" stroke="#000" stroke-width="3.2"/>
<circle cx="683.8" cy="1078.7" r="7.9" fill="#fff" stroke="#000" stroke-width="3.2"/>
<circle cx="119.6" cy="1077.0" r="9.50" fill="#000"/>
<circle cx="133.8" cy="1044.4" r="9.50" fill="#000"/>
<circle cx="151.6" cy="917.2" r="9.50" fill="#000"/>
<circle cx="171.4" cy="842.8" r="9.50" fill="#000"/>
<circle cx="210.9" cy="1025.0" r="9.50" fill="#000"/>
<circle cx="261.9" cy="1092.6" r="9.50" fill="#000"/>
<circle cx="321.2" cy="1094.3" r="9.50" fill="#000"/>
<circle cx="400.6" cy="1095.7" r="9.50" fill="#000"/>
<circle cx="468.2" cy="1095.7" r="9.50" fill="#000"/>
<circle cx="519.8" cy="1083.9" r="9.50" fill="#000"/>
<circle cx="599.1" cy="1097.8" r="9.50" fill="#000"/>
<circle cx="683.8" cy="1097.8" r="9.50" fill="#000"/>
<path d="M119.6 1087.8L128.0 1103.6L111.2 1103.6Z" fill="#fff" stroke="#000" stroke-width="3.2" stroke-linejoin="round"/>
<path d="M133.8 1087.1L142.2 1102.9L125.4 1102.9Z" fill="#fff" stroke="#000" stroke-width="3.2" stroke-linejoin="round"/>
<path d="M151.6 1086.4L160.0 1102.2L143.2 1102.2Z" fill="#fff" stroke="#000" stroke-width="3.2" stroke-linejoin="round"/>
<path d="M171.4 1085.7L179.8 1101.5L163.0 1101.5Z" fill="#fff" stroke="#000" stroke-width="3.2" stroke-linejoin="round"/>
<path d="M210.9 1085.7L219.3 1101.5L202.5 1101.5Z" fill="#fff" stroke="#000" stroke-width="3.2" stroke-linejoin="round"/>
<path d="M261.9 1085.7L270.3 1101.5L253.5 1101.5Z" fill="#fff" stroke="#000" stroke-width="3.2" stroke-linejoin="round"/>
<path d="M321.2 1085.7L329.6 1101.5L312.8 1101.5Z" fill="#fff" stroke="#000" stroke-width="3.2" stroke-linejoin="round"/>
<path d="M400.6 1085.7L409.0 1101.5L392.2 1101.5Z" fill="#fff" stroke="#000" stroke-width="3.2" stroke-linejoin="round"/>
<path d="M468.2 1085.7L476.6 1101.5L459.8 1101.5Z" fill="#fff" stroke="#000" stroke-width="3.2" stroke-linejoin="round"/>
<path d="M599.1 845.3L607.5 861.1L590.7 861.1Z" fill="#fff" stroke="#000" stroke-width="3.2" stroke-linejoin="round"/>
<path d="M683.8 1074.7L692.2 1090.5L675.4 1090.5Z" fill="#fff" stroke="#000" stroke-width="3.2" stroke-linejoin="round"/>
<path d="M119.6 1087.8L128.0 1103.6L111.2 1103.6Z" fill="#111" stroke="#000" stroke-width="3.2" stroke-linejoin="round"/>
<path d="M133.8 1087.1L142.2 1102.9L125.4 1102.9Z" fill="#111" stroke="#000" stroke-width="3.2" stroke-linejoin="round"/>
<path d="M151.6 985.3L160.0 1001.1L143.2 1001.1Z" fill="#111" stroke="#000" stroke-width="3.2" stroke-linejoin="round"/>
<path d="M171.4 920.1L179.8 935.9L163.0 935.9Z" fill="#111" stroke="#000" stroke-width="3.2" stroke-linejoin="round"/>
<path d="M210.9 1013.0L219.3 1028.8L202.5 1028.8Z" fill="#111" stroke="#000" stroke-width="3.2" stroke-linejoin="round"/>
<path d="M261.9 1006.0L270.3 1021.8L253.5 1021.8Z" fill="#111" stroke="#000" stroke-width="3.2" stroke-linejoin="round"/>
<path d="M321.2 1057.7L329.6 1073.5L312.8 1073.5Z" fill="#111" stroke="#000" stroke-width="3.2" stroke-linejoin="round"/>
<path d="M400.6 1076.0L409.0 1091.8L392.2 1091.8Z" fill="#111" stroke="#000" stroke-width="3.2" stroke-linejoin="round"/>
<path d="M468.2 1075.3L476.6 1091.1L459.8 1091.1Z" fill="#111" stroke="#000" stroke-width="3.2" stroke-linejoin="round"/>
<path d="M519.8 919.4L528.2 935.2L511.4 935.2Z" fill="#111" stroke="#000" stroke-width="3.2" stroke-linejoin="round"/>
<path d="M599.1 975.1L607.5 990.9L590.7 990.9Z" fill="#111" stroke="#000" stroke-width="3.2" stroke-linejoin="round"/>
<path d="M683.8 949.5L692.2 965.3L675.4 965.3Z" fill="#111" stroke="#000" stroke-width="3.2" stroke-linejoin="round"/>
<rect x="111.4" y="1088.9" width="16.4" height="16.4" rx="1" fill="#fff" stroke="#000" stroke-width="3.2"/>
<rect x="125.6" y="1088.9" width="16.4" height="16.4" rx="1" fill="#fff" stroke="#000" stroke-width="3.2"/>
<rect x="143.4" y="1088.9" width="16.4" height="16.4" rx="1" fill="#fff" stroke="#000" stroke-width="3.2"/>
<rect x="163.2" y="1088.9" width="16.4" height="16.4" rx="1" fill="#fff" stroke="#000" stroke-width="3.2"/>
<rect x="202.7" y="1088.9" width="16.4" height="16.4" rx="1" fill="#fff" stroke="#000" stroke-width="3.2"/>
<rect x="253.7" y="1088.9" width="16.4" height="16.4" rx="1" fill="#fff" stroke="#000" stroke-width="3.2"/>
<rect x="313.0" y="1088.9" width="16.4" height="16.4" rx="1" fill="#fff" stroke="#000" stroke-width="3.2"/>
<rect x="392.4" y="1088.9" width="16.4" height="16.4" rx="1" fill="#fff" stroke="#000" stroke-width="3.2"/>
<rect x="460.0" y="1088.9" width="16.4" height="16.4" rx="1" fill="#fff" stroke="#000" stroke-width="3.2"/>
<rect x="511.6" y="1088.9" width="16.4" height="16.4" rx="1" fill="#fff" stroke="#000" stroke-width="3.2"/>
<rect x="590.9" y="1088.9" width="16.4" height="16.4" rx="1" fill="#fff" stroke="#000" stroke-width="3.2"/>
<rect x="109.8" y="1088.0" width="19.6" height="19.6" rx="2" fill="#000"/>
<rect x="124.0" y="1088.0" width="19.6" height="19.6" rx="2" fill="#000"/>
<rect x="141.8" y="1088.0" width="19.6" height="19.6" rx="2" fill="#000"/>
<rect x="161.6" y="1088.0" width="19.6" height="19.6" rx="2" fill="#000"/>
<rect x="201.1" y="1088.0" width="19.6" height="19.6" rx="2" fill="#000"/>
<rect x="252.1" y="1088.0" width="19.6" height="19.6" rx="2" fill="#000"/>
<rect x="311.4" y="1088.0" width="19.6" height="19.6" rx="2" fill="#000"/>
<rect x="390.8" y="1088.0" width="19.6" height="19.6" rx="2" fill="#000"/>
<rect x="458.4" y="1088.0" width="19.6" height="19.6" rx="2" fill="#000"/>
<rect x="510.0" y="1088.0" width="19.6" height="19.6" rx="2" fill="#000"/>
<rect x="589.3" y="1088.0" width="19.6" height="19.6" rx="2" fill="#000"/>
<text transform="translate(24.2,886.6) rotate(-90)" text-anchor="start" class="ay">Fe<tspan dy="-10" dx="-0.3" font-size="23">2+</tspan><tspan dy="10" dx="-3.0" font-size="31">&#160;[uM]</tspan></text>
<text x="419.8" y="1208.9" text-anchor="middle" class="ax">Time (days)</text>
<text x="670.6" y="649.2" class="lt">C</text>
<rect x="864.2" y="609.5" width="598.6" height="495.5" fill="none" stroke="#000" stroke-width="3.4"/>
<line x1="854.7" y1="1105" x2="864.2" y2="1105" stroke="#000" stroke-width="3.4"/>
<text x="836.3" y="1115" class="tk" text-anchor="end">0</text>
<line x1="854.7" y1="1005.9" x2="864.2" y2="1005.9" stroke="#000" stroke-width="3.4"/>
<text x="836.3" y="1015.9" class="tk" text-anchor="end">2</text>
<line x1="854.7" y1="906.8" x2="864.2" y2="906.8" stroke="#000" stroke-width="3.4"/>
<text x="836.3" y="916.8" class="tk" text-anchor="end">4</text>
<line x1="854.7" y1="807.7" x2="864.2" y2="807.7" stroke="#000" stroke-width="3.4"/>
<text x="836.3" y="817.7" class="tk" text-anchor="end">6</text>
<line x1="854.7" y1="708.6" x2="864.2" y2="708.6" stroke="#000" stroke-width="3.4"/>
<text x="836.3" y="718.6" class="tk" text-anchor="end">8</text>
<line x1="854.7" y1="609.5" x2="864.2" y2="609.5" stroke="#000" stroke-width="3.4"/>
<text x="836.3" y="619.5" class="tk" text-anchor="end">10</text>
<line x1="864.2" y1="1105" x2="864.2" y2="1114.5" stroke="#000" stroke-width="3.4"/>
<text x="864.2" y="1153" class="tk" text-anchor="middle">0</text>
<line x1="1063.7" y1="1105" x2="1063.7" y2="1114.5" stroke="#000" stroke-width="3.4"/>
<text x="1063.7" y="1153" class="tk" text-anchor="middle">10</text>
<line x1="1263.3" y1="1105" x2="1263.3" y2="1114.5" stroke="#000" stroke-width="3.4"/>
<text x="1263.3" y="1153" class="tk" text-anchor="middle">20</text>
<line x1="1462.8" y1="1105" x2="1462.8" y2="1114.5" stroke="#000" stroke-width="3.4"/>
<text x="1462.8" y="1153" class="tk" text-anchor="middle">30</text>
<polyline points="864.2,1105.0 878.6,1105.0 896.5,1105.0 916.5,1105.0 956.4,1085.2 1007.9,952.9 1067.7,1002.9" fill="none" stroke="#000" stroke-width="3.3" stroke-linejoin="round"/>
<polyline points="1216.2,841.4 1268.3,802.2 1348.3,791.3" fill="none" stroke="#000" stroke-width="3.3" stroke-linejoin="round"/>
<polyline points="864.2,1105.0 878.6,1105.0 896.5,1105.0 916.5,1105.0 956.4,1077.7 1007.9,946.4 1067.7,948.4 1147.9,862.2 1216.2,1001.9 1268.3,918.2 1348.3,972.2" fill="none" stroke="#000" stroke-width="5.2" stroke-linejoin="round"/>
<polyline points="864.2,1102.5 878.6,1105.0 896.5,1105.0 916.5,1105.0 956.4,1105.0 1007.9,1105.0 1067.7,1105.0 1147.9,1105.0 1216.2,1099.1 1268.3,1104.0 1348.3,1096.1" fill="none" stroke="#000" stroke-width="3.5" stroke-linejoin="round"/>
<polyline points="864.2,1105.0 878.6,1105.0 896.5,1105.0 916.5,1105.0 956.4,1105.0 1007.9,1105.0 1067.7,1105.0 1147.9,1105.0 1216.2,1105.0 1268.3,1105.0 1348.3,1105.0" fill="none" stroke="#000" stroke-width="2.9" stroke-linejoin="round"/>
<line x1="956.4" y1="1055.9" x2="956.4" y2="1095.1" stroke="#000" stroke-width="3.5"/>
<line x1="952.5" y1="1055.9" x2="960.3" y2="1055.9" stroke="#000" stroke-width="3.6"/>
<line x1="952.5" y1="1095.1" x2="960.3" y2="1095.1" stroke="#000" stroke-width="3.6"/>
<line x1="1007.9" y1="936.5" x2="1007.9" y2="968.7" stroke="#000" stroke-width="3.5"/>
<line x1="1004.0" y1="936.5" x2="1011.8" y2="936.5" stroke="#000" stroke-width="3.6"/>
<line x1="1004.0" y1="968.7" x2="1011.8" y2="968.7" stroke="#000" stroke-width="3.6"/>
<line x1="1067.7" y1="979.1" x2="1067.7" y2="1027.2" stroke="#000" stroke-width="3.5"/>
<line x1="1063.8" y1="979.1" x2="1071.6" y2="979.1" stroke="#000" stroke-width="3.6"/>
<line x1="1063.8" y1="1027.2" x2="1071.6" y2="1027.2" stroke="#000" stroke-width="3.6"/>
<line x1="1216.2" y1="804.7" x2="1216.2" y2="879.1" stroke="#000" stroke-width="3.5"/>
<line x1="1212.3" y1="804.7" x2="1220.1" y2="804.7" stroke="#000" stroke-width="3.6"/>
<line x1="1212.3" y1="879.1" x2="1220.1" y2="879.1" stroke="#000" stroke-width="3.6"/>
<line x1="1268.3" y1="669.0" x2="1268.3" y2="935.5" stroke="#000" stroke-width="3.5"/>
<line x1="1264.4" y1="669.0" x2="1272.2" y2="669.0" stroke="#000" stroke-width="3.6"/>
<line x1="1264.4" y1="935.5" x2="1272.2" y2="935.5" stroke="#000" stroke-width="3.6"/>
<line x1="1348.3" y1="641.2" x2="1348.3" y2="940.5" stroke="#000" stroke-width="3.5"/>
<line x1="1344.4" y1="641.2" x2="1352.2" y2="641.2" stroke="#000" stroke-width="3.6"/>
<line x1="1344.4" y1="940.5" x2="1352.2" y2="940.5" stroke="#000" stroke-width="3.6"/>
<line x1="1007.9" y1="924.6" x2="1007.9" y2="956.4" stroke="#000" stroke-width="3.5"/>
<line x1="1004.0" y1="924.6" x2="1011.8" y2="924.6" stroke="#000" stroke-width="3.6"/>
<line x1="1004.0" y1="956.4" x2="1011.8" y2="956.4" stroke="#000" stroke-width="3.6"/>
<line x1="1147.9" y1="836.4" x2="1147.9" y2="887.5" stroke="#000" stroke-width="3.5"/>
<line x1="1144.0" y1="836.4" x2="1151.8" y2="836.4" stroke="#000" stroke-width="3.6"/>
<line x1="1144.0" y1="887.5" x2="1151.8" y2="887.5" stroke="#000" stroke-width="3.6"/>
<circle cx="864.2" cy="1105.0" r="7.9" fill="#fff" stroke="#000" stroke-width="3.2"/>
<circle cx="878.6" cy="1105.0" r="7.9" fill="#fff" stroke="#000" stroke-width="3.2"/>
<circle cx="896.5" cy="1105.0" r="7.9" fill="#fff" stroke="#000" stroke-width="3.2"/>
<circle cx="916.5" cy="1105.0" r="7.9" fill="#fff" stroke="#000" stroke-width="3.2"/>
<circle cx="956.4" cy="1085.2" r="7.9" fill="#fff" stroke="#000" stroke-width="3.2"/>
<circle cx="1007.9" cy="952.9" r="7.9" fill="#fff" stroke="#000" stroke-width="3.2"/>
<circle cx="1067.7" cy="1002.9" r="7.9" fill="#fff" stroke="#000" stroke-width="3.2"/>
<circle cx="1216.2" cy="841.4" r="7.9" fill="#fff" stroke="#000" stroke-width="3.2"/>
<circle cx="1268.3" cy="802.2" r="7.9" fill="#fff" stroke="#000" stroke-width="3.2"/>
<circle cx="1348.3" cy="791.3" r="7.9" fill="#fff" stroke="#000" stroke-width="3.2"/>
<circle cx="864.2" cy="1105.0" r="10.26" fill="#000"/>
<circle cx="878.6" cy="1105.0" r="10.26" fill="#000"/>
<circle cx="896.5" cy="1105.0" r="10.26" fill="#000"/>
<circle cx="916.5" cy="1105.0" r="10.26" fill="#000"/>
<circle cx="956.4" cy="1077.7" r="10.26" fill="#000"/>
<circle cx="1007.9" cy="946.4" r="10.26" fill="#000"/>
<circle cx="1067.7" cy="948.4" r="10.26" fill="#000"/>
<circle cx="1147.9" cy="862.2" r="10.26" fill="#000"/>
<circle cx="1216.2" cy="1001.9" r="10.26" fill="#000"/>
<circle cx="1268.3" cy="918.2" r="10.26" fill="#000"/>
<circle cx="1348.3" cy="972.2" r="10.26" fill="#000"/>
<path d="M864.2 1094.6L872.6 1110.4L855.8 1110.4Z" fill="#111" stroke="#000" stroke-width="3.2" stroke-linejoin="round"/>
<path d="M878.6 1097.1L887.0 1112.9L870.2 1112.9Z" fill="#111" stroke="#000" stroke-width="3.2" stroke-linejoin="round"/>
<path d="M896.5 1097.1L904.9 1112.9L888.1 1112.9Z" fill="#111" stroke="#000" stroke-width="3.2" stroke-linejoin="round"/>
<path d="M916.5 1097.1L924.9 1112.9L908.1 1112.9Z" fill="#111" stroke="#000" stroke-width="3.2" stroke-linejoin="round"/>
<path d="M956.4 1097.1L964.8 1112.9L948.0 1112.9Z" fill="#111" stroke="#000" stroke-width="3.2" stroke-linejoin="round"/>
<path d="M1007.9 1097.1L1016.3 1112.9L999.5 1112.9Z" fill="#111" stroke="#000" stroke-width="3.2" stroke-linejoin="round"/>
<path d="M1067.7 1097.1L1076.1 1112.9L1059.3 1112.9Z" fill="#111" stroke="#000" stroke-width="3.2" stroke-linejoin="round"/>
<path d="M1147.9 1097.1L1156.3 1112.9L1139.5 1112.9Z" fill="#111" stroke="#000" stroke-width="3.2" stroke-linejoin="round"/>
<path d="M1216.2 1091.2L1224.6 1107.0L1207.8 1107.0Z" fill="#111" stroke="#000" stroke-width="3.2" stroke-linejoin="round"/>
<path d="M1268.3 1096.1L1276.7 1111.9L1259.9 1111.9Z" fill="#111" stroke="#000" stroke-width="3.2" stroke-linejoin="round"/>
<path d="M1348.3 1088.2L1356.7 1104.0L1339.9 1104.0Z" fill="#111" stroke="#000" stroke-width="3.2" stroke-linejoin="round"/>
<rect x="854.4" y="1095.2" width="19.6" height="19.6" rx="2" fill="#000"/>
<rect x="868.8" y="1095.2" width="19.6" height="19.6" rx="2" fill="#000"/>
<rect x="886.7" y="1095.2" width="19.6" height="19.6" rx="2" fill="#000"/>
<rect x="906.7" y="1095.2" width="19.6" height="19.6" rx="2" fill="#000"/>
<rect x="946.6" y="1095.2" width="19.6" height="19.6" rx="2" fill="#000"/>
<rect x="998.1" y="1095.2" width="19.6" height="19.6" rx="2" fill="#000"/>
<rect x="1057.9" y="1095.2" width="19.6" height="19.6" rx="2" fill="#000"/>
<rect x="1138.1" y="1095.2" width="19.6" height="19.6" rx="2" fill="#000"/>
<rect x="1206.4" y="1095.2" width="19.6" height="19.6" rx="2" fill="#000"/>
<rect x="1258.5" y="1095.2" width="19.6" height="19.6" rx="2" fill="#000"/>
<rect x="1338.5" y="1095.2" width="19.6" height="19.6" rx="2" fill="#000"/>
<text transform="translate(785.7,779.5) rotate(-90)" text-anchor="middle" class="ay">H<tspan dy="7.6" font-size="21">2</tspan><tspan dy="-7.6">S [mM]</tspan></text>
<text x="1173.2" y="1209.4" text-anchor="middle" class="ax">Time (days)</text>
<text x="1419.7" y="649.4" class="lt">D</text>
<text x="909" y="1011.8" class="ax">E</text>
<rect x="471.9" y="1278.7" width="600.1" height="476.9" fill="none" stroke="#000" stroke-width="3.4"/>
<line x1="462.4" y1="1755.6" x2="471.9" y2="1755.6" stroke="#000" stroke-width="3.4"/>
<text x="443.8" y="1765.6" class="tk" text-anchor="end">24</text>
<line x1="462.4" y1="1676.1" x2="471.9" y2="1676.1" stroke="#000" stroke-width="3.4"/>
<text x="443.8" y="1686.1" class="tk" text-anchor="end">26</text>
<line x1="462.4" y1="1596.6" x2="471.9" y2="1596.6" stroke="#000" stroke-width="3.4"/>
<text x="443.8" y="1606.6" class="tk" text-anchor="end">28</text>
<line x1="462.4" y1="1517.2" x2="471.9" y2="1517.2" stroke="#000" stroke-width="3.4"/>
<text x="443.8" y="1527.2" class="tk" text-anchor="end">30</text>
<line x1="462.4" y1="1437.7" x2="471.9" y2="1437.7" stroke="#000" stroke-width="3.4"/>
<text x="443.8" y="1447.7" class="tk" text-anchor="end">32</text>
<line x1="462.4" y1="1358.2" x2="471.9" y2="1358.2" stroke="#000" stroke-width="3.4"/>
<text x="443.8" y="1368.2" class="tk" text-anchor="end">34</text>
<line x1="462.4" y1="1278.7" x2="471.9" y2="1278.7" stroke="#000" stroke-width="3.4"/>
<text x="443.8" y="1288.7" class="tk" text-anchor="end">36</text>
<line x1="471.9" y1="1755.6" x2="471.9" y2="1765.1" stroke="#000" stroke-width="3.4"/>
<text x="471.9" y="1802.7" class="tk" text-anchor="middle">0</text>
<line x1="671.9" y1="1755.6" x2="671.9" y2="1765.1" stroke="#000" stroke-width="3.4"/>
<text x="671.9" y="1802.7" class="tk" text-anchor="middle">10</text>
<line x1="872" y1="1755.6" x2="872" y2="1765.1" stroke="#000" stroke-width="3.4"/>
<text x="872" y="1802.7" class="tk" text-anchor="middle">20</text>
<line x1="1072" y1="1755.6" x2="1072" y2="1765.1" stroke="#000" stroke-width="3.4"/>
<text x="1072" y="1802.7" class="tk" text-anchor="middle">30</text>
<polyline points="471.9,1405.9 486.3,1413.8 504.3,1407.9 524.3,1413.8 564.3,1437.7 615.9,1503.2 675.9,1523.9 756.3,1605.4 824.8,1642.7 877.0,1685.3 957.2,1722.2" fill="none" stroke="#000" stroke-width="3.5" stroke-linejoin="round"/>
<polyline points="471.9,1407.5 486.3,1414.2 504.3,1405.5 524.3,1414.2 564.3,1441.6 615.9,1486.9 675.9,1575.6 756.3,1575.6 824.8,1575.6 877.0,1585.9 957.2,1611.7" fill="none" stroke="#000" stroke-width="3.5" stroke-linejoin="round"/>
<polyline points="471.9,1457.5 486.3,1486.9 504.3,1459.5 524.3,1470.7 564.3,1485.0 615.9,1472.6 675.9,1476.6 756.3,1453.6 824.8,1447.6 877.0,1469.5 957.2,1494.9" fill="none" stroke="#000" stroke-width="3.5" stroke-linejoin="round"/>
<polyline points="471.9,1443.6 486.3,1444.0 504.3,1429.7 524.3,1435.7 564.3,1450.8 615.9,1452.4 675.9,1454.8 756.3,1451.2 824.8,1467.5 877.0,1460.3 957.2,1476.6" fill="none" stroke="#000" stroke-width="3.5" stroke-linejoin="round"/>
<polyline points="471.9,1430.5 486.3,1407.1 504.3,1427.7 524.3,1435.3 564.3,1425.7 615.9,1405.1 675.9,1374.1 756.3,1370.5 824.8,1347.5 877.0,1367.3 957.2,1388.0" fill="none" stroke="#000" stroke-width="2.9" stroke-linejoin="round"/>
<line x1="877.0" y1="1640.7" x2="877.0" y2="1729.8" stroke="#000" stroke-width="3.5"/>
<line x1="873.1" y1="1640.7" x2="880.9" y2="1640.7" stroke="#000" stroke-width="3.6"/>
<line x1="873.1" y1="1729.8" x2="880.9" y2="1729.8" stroke="#000" stroke-width="3.6"/>
<line x1="824.8" y1="1553.7" x2="824.8" y2="1597.4" stroke="#000" stroke-width="3.5"/>
<line x1="820.9" y1="1553.7" x2="828.7" y2="1553.7" stroke="#000" stroke-width="3.6"/>
<line x1="820.9" y1="1597.4" x2="828.7" y2="1597.4" stroke="#000" stroke-width="3.6"/>
<line x1="486.3" y1="1470.7" x2="486.3" y2="1498.5" stroke="#000" stroke-width="3.5"/>
<line x1="482.4" y1="1470.7" x2="490.2" y2="1470.7" stroke="#000" stroke-width="3.6"/>
<line x1="482.4" y1="1498.5" x2="490.2" y2="1498.5" stroke="#000" stroke-width="3.6"/>
<line x1="504.3" y1="1441.6" x2="504.3" y2="1481.4" stroke="#000" stroke-width="3.5"/>
<line x1="500.4" y1="1441.6" x2="508.2" y2="1441.6" stroke="#000" stroke-width="3.6"/>
<line x1="500.4" y1="1481.4" x2="508.2" y2="1481.4" stroke="#000" stroke-width="3.6"/>
<line x1="524.3" y1="1437.7" x2="524.3" y2="1490.1" stroke="#000" stroke-width="3.5"/>
<line x1="520.4" y1="1437.7" x2="528.2" y2="1437.7" stroke="#000" stroke-width="3.6"/>
<line x1="520.4" y1="1490.1" x2="528.2" y2="1490.1" stroke="#000" stroke-width="3.6"/>
<line x1="564.3" y1="1467.5" x2="564.3" y2="1498.5" stroke="#000" stroke-width="3.5"/>
<line x1="560.4" y1="1467.5" x2="568.2" y2="1467.5" stroke="#000" stroke-width="3.6"/>
<line x1="560.4" y1="1498.5" x2="568.2" y2="1498.5" stroke="#000" stroke-width="3.6"/>
<line x1="824.8" y1="1426.9" x2="824.8" y2="1457.5" stroke="#000" stroke-width="3.5"/>
<line x1="820.9" y1="1426.9" x2="828.7" y2="1426.9" stroke="#000" stroke-width="3.6"/>
<line x1="820.9" y1="1457.5" x2="828.7" y2="1457.5" stroke="#000" stroke-width="3.6"/>
<line x1="756.3" y1="1425.7" x2="756.3" y2="1481.4" stroke="#000" stroke-width="3.5"/>
<line x1="752.4" y1="1425.7" x2="760.2" y2="1425.7" stroke="#000" stroke-width="3.6"/>
<line x1="752.4" y1="1481.4" x2="760.2" y2="1481.4" stroke="#000" stroke-width="3.6"/>
<line x1="524.3" y1="1399.9" x2="524.3" y2="1453.6" stroke="#000" stroke-width="3.5"/>
<line x1="520.4" y1="1399.9" x2="528.2" y2="1399.9" stroke="#000" stroke-width="3.6"/>
<line x1="520.4" y1="1453.6" x2="528.2" y2="1453.6" stroke="#000" stroke-width="3.6"/>
<line x1="615.9" y1="1395.9" x2="615.9" y2="1413.8" stroke="#000" stroke-width="3.5"/>
<line x1="612.0" y1="1395.9" x2="619.8" y2="1395.9" stroke="#000" stroke-width="3.6"/>
<line x1="612.0" y1="1413.8" x2="619.8" y2="1413.8" stroke="#000" stroke-width="3.6"/>
<line x1="824.8" y1="1338.3" x2="824.8" y2="1356.2" stroke="#000" stroke-width="3.5"/>
<line x1="820.9" y1="1338.3" x2="828.7" y2="1338.3" stroke="#000" stroke-width="3.6"/>
<line x1="820.9" y1="1356.2" x2="828.7" y2="1356.2" stroke="#000" stroke-width="3.6"/>
<circle cx="471.9" cy="1405.9" r="7.9" fill="#fff" stroke="#000" stroke-width="3.2"/>
<circle cx="486.3" cy="1413.8" r="7.9" fill="#fff" stroke="#000" stroke-width="3.2"/>
<circle cx="504.3" cy="1407.9" r="7.9" fill="#fff" stroke="#000" stroke-width="3.2"/>
<circle cx="524.3" cy="1413.8" r="7.9" fill="#fff" stroke="#000" stroke-width="3.2"/>
<circle cx="564.3" cy="1437.7" r="7.9" fill="#fff" stroke="#000" stroke-width="3.2"/>
<circle cx="615.9" cy="1503.2" r="7.9" fill="#fff" stroke="#000" stroke-width="3.2"/>
<circle cx="675.9" cy="1523.9" r="7.9" fill="#fff" stroke="#000" stroke-width="3.2"/>
<circle cx="756.3" cy="1605.4" r="7.9" fill="#fff" stroke="#000" stroke-width="3.2"/>
<circle cx="824.8" cy="1642.7" r="7.9" fill="#fff" stroke="#000" stroke-width="3.2"/>
<circle cx="877.0" cy="1685.3" r="7.9" fill="#fff" stroke="#000" stroke-width="3.2"/>
<circle cx="957.2" cy="1722.2" r="7.9" fill="#fff" stroke="#000" stroke-width="3.2"/>
<circle cx="471.9" cy="1407.5" r="9.50" fill="#000"/>
<circle cx="486.3" cy="1414.2" r="9.50" fill="#000"/>
<circle cx="504.3" cy="1405.5" r="9.50" fill="#000"/>
<circle cx="524.3" cy="1414.2" r="9.50" fill="#000"/>
<circle cx="564.3" cy="1441.6" r="9.50" fill="#000"/>
<circle cx="615.9" cy="1486.9" r="9.50" fill="#000"/>
<circle cx="675.9" cy="1575.6" r="9.50" fill="#000"/>
<circle cx="756.3" cy="1575.6" r="9.50" fill="#000"/>
<circle cx="824.8" cy="1575.6" r="9.50" fill="#000"/>
<circle cx="877.0" cy="1585.9" r="9.50" fill="#000"/>
<circle cx="957.2" cy="1611.7" r="9.50" fill="#000"/>
<path d="M471.9 1449.6L480.3 1465.4L463.5 1465.4Z" fill="#fff" stroke="#000" stroke-width="3.2" stroke-linejoin="round"/>
<path d="M486.3 1479.0L494.7 1494.8L477.9 1494.8Z" fill="#fff" stroke="#000" stroke-width="3.2" stroke-linejoin="round"/>
<path d="M504.3 1451.6L512.7 1467.4L495.9 1467.4Z" fill="#fff" stroke="#000" stroke-width="3.2" stroke-linejoin="round"/>
<path d="M524.3 1462.8L532.7 1478.6L515.9 1478.6Z" fill="#fff" stroke="#000" stroke-width="3.2" stroke-linejoin="round"/>
<path d="M564.3 1477.1L572.7 1492.9L555.9 1492.9Z" fill="#fff" stroke="#000" stroke-width="3.2" stroke-linejoin="round"/>
<path d="M615.9 1464.7L624.3 1480.5L607.5 1480.5Z" fill="#fff" stroke="#000" stroke-width="3.2" stroke-linejoin="round"/>
<path d="M675.9 1468.7L684.3 1484.5L667.5 1484.5Z" fill="#fff" stroke="#000" stroke-width="3.2" stroke-linejoin="round"/>
<path d="M756.3 1445.7L764.7 1461.5L747.9 1461.5Z" fill="#fff" stroke="#000" stroke-width="3.2" stroke-linejoin="round"/>
<path d="M824.8 1439.7L833.2 1455.5L816.4 1455.5Z" fill="#fff" stroke="#000" stroke-width="3.2" stroke-linejoin="round"/>
<path d="M877.0 1461.6L885.4 1477.4L868.6 1477.4Z" fill="#fff" stroke="#000" stroke-width="3.2" stroke-linejoin="round"/>
<path d="M957.2 1487.0L965.6 1502.8L948.8 1502.8Z" fill="#fff" stroke="#000" stroke-width="3.2" stroke-linejoin="round"/>
<path d="M471.9 1435.7L480.3 1451.5L463.5 1451.5Z" fill="#111" stroke="#000" stroke-width="3.2" stroke-linejoin="round"/>
<path d="M486.3 1436.1L494.7 1451.9L477.9 1451.9Z" fill="#111" stroke="#000" stroke-width="3.2" stroke-linejoin="round"/>
<path d="M504.3 1421.8L512.7 1437.6L495.9 1437.6Z" fill="#111" stroke="#000" stroke-width="3.2" stroke-linejoin="round"/>
<path d="M524.3 1427.8L532.7 1443.6L515.9 1443.6Z" fill="#111" stroke="#000" stroke-width="3.2" stroke-linejoin="round"/>
<path d="M564.3 1442.9L572.7 1458.7L555.9 1458.7Z" fill="#111" stroke="#000" stroke-width="3.2" stroke-linejoin="round"/>
<path d="M615.9 1444.5L624.3 1460.3L607.5 1460.3Z" fill="#111" stroke="#000" stroke-width="3.2" stroke-linejoin="round"/>
<path d="M675.9 1446.9L684.3 1462.7L667.5 1462.7Z" fill="#111" stroke="#000" stroke-width="3.2" stroke-linejoin="round"/>
<path d="M756.3 1443.3L764.7 1459.1L747.9 1459.1Z" fill="#111" stroke="#000" stroke-width="3.2" stroke-linejoin="round"/>
<path d="M824.8 1459.6L833.2 1475.4L816.4 1475.4Z" fill="#111" stroke="#000" stroke-width="3.2" stroke-linejoin="round"/>
<path d="M877.0 1452.4L885.4 1468.2L868.6 1468.2Z" fill="#111" stroke="#000" stroke-width="3.2" stroke-linejoin="round"/>
<path d="M957.2 1468.7L965.6 1484.5L948.8 1484.5Z" fill="#111" stroke="#000" stroke-width="3.2" stroke-linejoin="round"/>
<rect x="462.1" y="1420.7" width="19.6" height="19.6" rx="2" fill="#000"/>
<rect x="476.5" y="1397.3" width="19.6" height="19.6" rx="2" fill="#000"/>
<rect x="494.5" y="1417.9" width="19.6" height="19.6" rx="2" fill="#000"/>
<rect x="514.5" y="1425.5" width="19.6" height="19.6" rx="2" fill="#000"/>
<rect x="554.5" y="1415.9" width="19.6" height="19.6" rx="2" fill="#000"/>
<rect x="606.1" y="1395.3" width="19.6" height="19.6" rx="2" fill="#000"/>
<rect x="666.1" y="1364.3" width="19.6" height="19.6" rx="2" fill="#000"/>
<rect x="746.5" y="1360.7" width="19.6" height="19.6" rx="2" fill="#000"/>
<rect x="815.0" y="1337.7" width="19.6" height="19.6" rx="2" fill="#000"/>
<rect x="867.2" y="1357.5" width="19.6" height="19.6" rx="2" fill="#000"/>
<rect x="947.4" y="1378.2" width="19.6" height="19.6" rx="2" fill="#000"/>
<text transform="translate(376.8,1508.5) rotate(-90)" text-anchor="middle" class="ay">SO<tspan dy="7.4" font-size="21">4</tspan><tspan dy="-18" font-size="21">2-</tspan><tspan dy="10.6"> [mM]</tspan></text>
<text x="773.9" y="1849.9" text-anchor="middle" class="ax">Time (days)</text>
<text x="1019.2" y="1315.2" class="lt">E</text>
</svg>
</body></html>
